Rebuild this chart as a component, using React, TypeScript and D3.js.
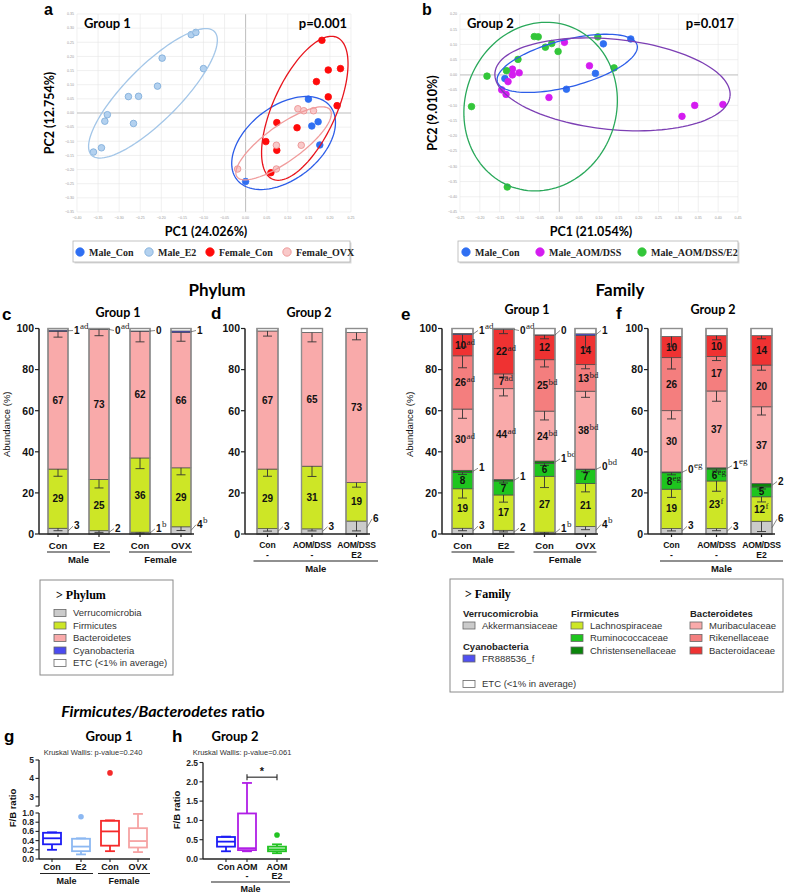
import React from 'react';
import * as d3 from 'd3';

const SANS = '"Liberation Sans", Arial, Helvetica, sans-serif';
const HEAD = 'Lato, "Open Sans", sans-serif';
const SERIF = '"Liberation Serif", "Times New Roman", serif';

// ---------- PCA (PC1, PC2) ----------
const aNames = ['Male_Con', 'Male_E2', 'Female_Con', 'Female_OVX'];
const aMaleCon = [[0.149, 0.049], [0.157, -0.046], [0.172, -0.031], [0.176, -0.113], [0.0, -0.242]];
const aMaleE2 = [[-0.361, -0.138], [-0.342, -0.123], [-0.334, -0.029], [-0.328, -0.006], [-0.278, 0.058], [-0.254, 0.059],
  [-0.266, -0.037], [-0.209, 0.095], [-0.198, 0.194], [-0.129, 0.277], [-0.118, 0.285], [-0.1, 0.157]];
const aFemaleCon = [[0.181, 0.257], [0.196, 0.152], [0.225, 0.157], [0.168, 0.111], [0.196, 0.057], [0.217, 0.026],
  [0.074, -0.034], [0.122, -0.052], [0.048, -0.101], [0.074, -0.132], [0.06, -0.211]];
const aFemaleOVX = [[-0.019, -0.198], [0.073, -0.114], [0.073, -0.198], [0.124, 0.015], [0.138, 0.008], [0.161, 0.008], [0.132, -0.114]];
// confidence ellipses: centre + two conjugate half axes (PC units)
const aEllMaleCon = { c: [0.0901, -0.1061], u: [0.1107, 0.1296], v: [-0.0538, 0.1013] };
const aEllMaleE2 = { c: [-0.2198, 0.0695], u: [0.1408, 0.2239], v: [0.0593, -0.0471] };
const aEllFemaleCon = { c: [0.1404, 0.0165], u: [0.0633, 0.2545], v: [0.0807, 0] };
const aEllFemaleOVX = { c: [0.0901, -0.1072], u: [0.1107, 0.1178], v: [-0.0237, 0.053] };

const bNames = ['Male_Con', 'Male_AOM/DSS', 'Male_AOM/DSS/E2'];
const bMaleCon = [[0.18, 0.118], [0.111, 0.102], [0.091, 0.005], [0.018, -0.047], [-0.137, -0.012]];
const bAomDss = [[0.013, 0.107], [0.076, 0.03], [-0.118, 0.019], [-0.101, 0.007], [-0.118, 0.0], [-0.129, -0.022],
  [-0.145, -0.049], [-0.134, -0.064], [-0.026, -0.074], [0.309, -0.136], [0.341, -0.1], [0.412, -0.097]];
const bAomDssE2 = [[-0.063, 0.126], [-0.053, 0.125], [-0.035, 0.091], [-0.019, 0.103], [-0.003, 0.077], [0.097, 0.125],
  [0.138, 0.023], [-0.104, 0.051], [-0.133, 0.014], [-0.182, -0.004], [-0.221, -0.104], [-0.131, -0.368]];
const bEllMaleCon = { c: [0.02, 0.038], u: [0.176, 0.06], v: [0.0149, -0.0744] };
const bEllAomDss = { c: [0.134, -0.031], u: [0.296, -0.0385], v: [-0.0113, -0.1476] };
const bEllAomDssE2 = { c: [-0.047, -0.104], u: [0.0714, 0.264], v: [0.1796, -0.0832] };

const pcaStyle = {
  Male_Con: { fill: '#2f6ff2', stroke: '#2f6ff2', line: '#2c5de8' },
  Male_E2: { fill: '#b3d1ef', stroke: '#7aa9d8', line: '#a3c6e8' },
  Female_Con: { fill: '#ff0a0a', stroke: '#ff0a0a', line: '#e8141c' },
  Female_OVX: { fill: '#f9c9c9', stroke: '#ea8c8c', line: '#f09c9c' },
  'Male_AOM/DSS': { fill: '#d41cf0', stroke: '#d41cf0', line: '#7c3fb4' },
  'Male_AOM/DSS/E2': { fill: '#33c63a', stroke: '#33c63a', line: '#29a85a' },
};

// ---------- Phylum stacked bars (%) ----------
const phylumTaxa = ['Verrucomicrobia', 'Firmicutes', 'Bacteroidetes', 'Cyanobacteria', 'ETC (<1% in average)'];
const phylumColors = ['#cbcbcb', '#cde626', '#f9aaaa', '#4b4bf0', '#ffffff'];
const phylumG1 = [[2.8, 28.8, 67.0, 0.6, 0.8], [1.6, 24.9, 73.0, 0.1, 0.4], [0.9, 36.1, 61.7, 0.1, 1.2], [3.5, 28.7, 65.8, 0.8, 1.2]];
const phylumG1Err = [[1.2, 3.5, 2.8, 0, 0], [0.8, 4.1, 3.0, 0, 0], [0.5, 5.2, 5.2, 0, 0], [1.8, 3.4, 4.2, 0, 0]];
const phylumG2 = [[2.6, 29.0, 67.2, 0, 1.2], [2.5, 30.5, 65.0, 0, 2.0], [6.3, 18.7, 73.0, 0, 2.0]];
const phylumG2Err = [[1.2, 3.5, 2.5, 0, 0], [1.0, 5.0, 4.5, 0, 0], [4.8, 2.2, 3.5, 0, 0]];

// ---------- Family stacked bars (%) ----------
const familyTaxa = ['Akkermansiaceae', 'Lachnospiraceae', 'Ruminococcaceae', 'Christensenellaceae', 'Muribaculaceae',
  'Rikenellaceae', 'Bacteroidaceae', 'FR888536_f', 'ETC (<1% in average)'];
const familyColors = ['#cbcbcb', '#cde626', '#1ec51e', '#0b850b', '#f9aaaa', '#f47e7e', '#ef3232', '#5050f0', '#ffffff'];
const familyG1 = [
  [2.8, 19.2, 8.0, 1.0, 29.8, 25.9, 10.3, 0.6, 2.4],
  [1.8, 17.2, 6.8, 0.7, 44.2, 7.2, 21.6, 0.1, 0.4],
  [0.9, 27.2, 6.3, 1.1, 24.3, 25.0, 12.0, 0.1, 3.1],
  [3.6, 20.9, 6.8, 0.3, 37.9, 12.9, 14.2, 0.8, 2.6],
];
const familyG1Err = [
  [1.2, 4.5, 1.0, 0, 4.5, 5.8, 6.0, 0, 0],
  [0.8, 3.5, 1.0, 0, 3.5, 1.5, 2.0, 0, 0],
  [0.5, 5.5, 1.0, 0, 4.3, 3.5, 1.8, 0, 0],
  [1.5, 4.0, 1.0, 0, 3.0, 2.0, 6.0, 0, 0],
];
const familyG2 = [
  [2.7, 19.1, 8.0, 0.4, 29.8, 25.8, 10.3, 0, 3.9],
  [2.6, 23.2, 5.8, 0.6, 37.4, 16.8, 10.1, 0, 3.5],
  [6.2, 11.9, 4.8, 1.6, 37.4, 20.3, 14.3, 0, 3.5],
];
const familyG2Err = [
  [1.2, 4.0, 1.0, 0, 4.0, 5.5, 5.0, 0, 0],
  [1.0, 5.0, 1.0, 0, 5.0, 2.0, 2.0, 0, 0],
  [5.0, 2.5, 1.0, 0, 4.0, 2.5, 1.5, 0, 0],
];
const familyLegendCols = [
  { phylum: 'Verrucomicrobia', items: [0] },
  { phylum: 'Cyanobacteria', items: [7] },
  { phylum: 'Firmicutes', items: [1, 2, 3] },
  { phylum: 'Bacteroidetes', items: [4, 5, 6] },
];

// significance letters
const phylumG1Out = [{ seg: 0, pos: 'bottom', sup: ['', '', 'b', 'b'] }, { seg: 3, pos: 'top', sup: ['ad', 'ad', '', ''] }];
const phylumG2Out = [{ seg: 0, pos: 'bottom', sup: ['', '', ''] }];
const familyG1Out = [
  { seg: 0, pos: 'bottom', sup: ['', '', 'b', 'b'] },
  { seg: 3, pos: 'side', sup: ['', '', 'bd', 'bd'] },
  { seg: 7, pos: 'top', sup: ['ad', 'ad', '', ''] },
];
const familyG2Out = [{ seg: 0, pos: 'bottom', sup: ['', '', ''] }, { seg: 3, pos: 'side', sup: ['eg', 'eg', ''] }];
const familyG1Sup = { 4: ['ad', 'ad', 'bd', 'bd'], 5: ['ad', 'ad', 'bd', 'bd'], 6: ['ad', 'ad', '', ''] };
const familyG2Sup = { 1: ['', 'f', 'f'], 2: ['eg', 'eg', ''] };

const g1Labels = [['Con'], ['E2'], ['Con'], ['OVX']];
const g1Groups = [{ name: 'Male', from: 0, to: 1 }, { name: 'Female', from: 2, to: 3 }];
const g2Labels = [['Con', '-'], ['AOM/DSS', '-'], ['AOM/DSS', 'E2']];
const g2Groups = [{ name: 'Male', from: 0, to: 2 }];

// ---------- F/B ratio box plots ----------
const fbG1 = { lo: [0.2, 0.1, 0.17, 0.15], q1: [0.32, 0.17, 0.29, 0.25], med: [0.45, 0.27, 0.6, 0.39], q3: [0.57, 0.44, 0.83, 0.67], hi: [0.58, 0.45, 0.84, 0.98], out: [[], [0.92], [4.3], []] };
const fbG2 = { lo: [0.2, 0.2, 0.15], q1: [0.32, 0.23, 0.2], med: [0.45, 0.28, 0.25], q3: [0.57, 1.18, 0.32], hi: [0.58, 1.97, 0.38], out: [[], [], [0.62]] };
const fbG2Labels = [['Con'], ['AOM', '-'], ['AOM', 'E2']];

function Pca({ names, points, ellipses, xDomain, yDomain, xRange, yRange, letter, letterX, group, pval, pc1, pc2, legendBox, legendPos }) {
  const x = d3.scaleLinear().domain(xDomain).range(xRange);
  const y = d3.scaleLinear().domain(yDomain).range(yRange);
  const xt = x.ticks(14), yt = y.ticks(14);
  const fmt = d3.format('.2f');
  const line = d3.line();
  const ell = e => line(d3.range(0, 361, 3).map(deg => {
    const t = (deg * Math.PI) / 180;
    return [x(e.c[0] + e.u[0] * Math.cos(t) + e.v[0] * Math.sin(t)), y(e.c[1] + e.u[1] * Math.cos(t) + e.v[1] * Math.sin(t))];
  }));
  const midX = (xRange[0] + xRange[1]) / 2, midY = (yRange[0] + yRange[1]) / 2;
  return (
    <g>
      {xt.map(t => (
        <line key={'x' + t} x1={x(t)} x2={x(t)} y1={yRange[0]} y2={yRange[1]} stroke={Math.abs(t) < 1e-9 ? '#bdbdbd' : '#e6e6e6'} strokeWidth={Math.abs(t) < 1e-9 ? 1 : 0.6} />
      ))}
      {yt.map(t => (
        <line key={'y' + t} x1={xRange[0]} x2={xRange[1]} y1={y(t)} y2={y(t)} stroke={Math.abs(t) < 1e-9 ? '#bdbdbd' : '#e6e6e6'} strokeWidth={Math.abs(t) < 1e-9 ? 1 : 0.6} />
      ))}
      {xt.map(t => (
        <text key={'xl' + t} x={x(t)} y={yRange[0] + 7} fontSize={3.6} fill="#999" textAnchor="middle" fontFamily={SANS}>{fmt(t)}</text>
      ))}
      {yt.map(t => (
        <text key={'yl' + t} x={xRange[0] - 3} y={y(t) + 1.3} fontSize={3.6} fill="#999" textAnchor="end" fontFamily={SANS}>{fmt(t)}</text>
      ))}
      {names.map((n, i) => (
        <g key={n}>
          {points[i].map((p, j) => (
            <circle key={j} cx={x(p[0])} cy={y(p[1])} r={3.3} fill={pcaStyle[n].fill} stroke={pcaStyle[n].stroke} strokeWidth={0.8} />
          ))}
        </g>
      ))}
      {names.map((n, i) => (
        <path key={'e' + n} d={ell(ellipses[i])} fill="none" stroke={pcaStyle[n].line} strokeWidth={1.3} />
      ))}
      <text x={letterX} y={15} fontSize={16} fontWeight="bold" fontFamily={SANS}>{letter}</text>
      <text x={xRange[0] + 7} y={28} fontSize={13} fontWeight="bold" fontFamily={HEAD}>{group}</text>
      <text x={xRange[1] - 4} y={28} fontSize={13} fontWeight="bold" fontFamily={HEAD} textAnchor="end">{pval}</text>
      <text x={midX - 8} y={236} fontSize={12.5} fontWeight="bold" fontFamily={HEAD} textAnchor="middle">{pc1}</text>
      <text transform={`translate(${xRange[0] - 23},${midY}) rotate(-90)`} fontSize={12.5} fontWeight="bold" fontFamily={HEAD} textAnchor="middle">{pc2}</text>
      <rect x={legendBox[0] + 1.5} y={242.5} width={legendBox[1] - legendBox[0]} height={21} fill="#d9d9d9" />
      <rect x={legendBox[0]} y={241} width={legendBox[1] - legendBox[0]} height={21} fill="#fff" stroke="#b5b5b5" strokeWidth={0.8} />
      {names.map((n, i) => (
        <g key={'lg' + n}>
          <circle cx={legendPos[i]} cy={252} r={4.2} fill={pcaStyle[n].fill} stroke={pcaStyle[n].stroke} strokeWidth={0.8} />
          <text x={legendPos[i] + 9} y={255.5} fontSize={10} fontWeight="bold" fontFamily={SERIF} fill="#222">{n}</text>
        </g>
      ))}
    </g>
  );
}

function StackPanel({ axisX, axisEnd, centers, barW, values, errors, colors, insideSup, outside, xLabels, groups, lineExt, yLabel, title, titleX, titleY, letter, letterX, letterY }) {
  const y = d3.scaleLinear().domain([0, 100]).range([534, 328.5]);
  const x = d3.scalePoint().domain(d3.range(values.length)).range(centers);
  const outSegs = new Set(outside.map(o => o.seg));
  const twoLine = xLabels[0].length > 1;
  const numW = s => String(s).length * 5.6;
  return (
    <g fontFamily={SANS}>
      {values.map((row, i) => {
        const cx = x(i);
        const left = cx - barW / 2, right = cx + barW / 2;
        const tops = Array.from(d3.cumsum(row));
        const total = tops[tops.length - 1];
        return (
          <g key={i}>
            {row.map((v, s) => {
              const b = s ? tops[s - 1] : 0;
              return v > 0 ? (
                <rect key={s} x={left} y={y(tops[s])} width={barW} height={y(b) - y(tops[s])} fill={colors[s]} stroke="#4a4a4a" strokeWidth={0.7} />
              ) : null;
            })}
            <rect x={left} y={y(total)} width={barW} height={y(0) - y(total)} fill="none" stroke="#8e8e8e" strokeWidth={1.4} />
            {row.map((v, s) => {
              const e = errors[i][s];
              if (!e) return null;
              const yt = y(tops[s]), yb = y(tops[s] - e);
              return (
                <g key={'e' + s} stroke="#333" strokeWidth={0.9}>
                  <line x1={cx} x2={cx} y1={yt} y2={yb} />
                  <line x1={cx - 4.5} x2={cx + 4.5} y1={yb} y2={yb} />
                </g>
              );
            })}
            {row.map((v, s) => {
              if (s === row.length - 1 || outSegs.has(s) || v < 4) return null;
              const b = s ? tops[s - 1] : 0;
              const label = Math.round(v);
              const sup = insideSup && insideSup[s] ? insideSup[s][i] : '';
              const tx = sup ? cx - 2 : cx;
              const ty = y((b + tops[s]) / 2) + 3.6;
              return (
                <g key={'l' + s}>
                  <text x={tx} y={ty} fontSize={10} fontWeight="bold" textAnchor="middle" fill="#111">{label}</text>
                  {sup && <text x={tx + numW(label) / 2 + 0.3} y={ty - 4} fontSize={9} fontFamily={SERIF} fill="#222">{sup}</text>}
                </g>
              );
            })}
            {outside.map(o => {
              const s = o.seg;
              const b = s ? tops[s - 1] : 0;
              const v = row[s];
              const label = Math.round(v);
              let cy;
              if (o.pos === 'bottom') cy = y(Math.max(tops[s] + 1.5, 3));
              else if (o.pos === 'top') cy = y(100) + 1;
              else cy = y(tops[s] + 1.5);
              const lx = right + 6;
              const sup = o.sup[i];
              return (
                <g key={'o' + s}>
                  <line x1={right} y1={y((b + tops[s]) / 2)} x2={lx - 1} y2={cy + 1} stroke="#555" strokeWidth={0.7} />
                  <text x={lx} y={cy + 4} fontSize={10} fontWeight="bold" fill="#111">{label}</text>
                  {sup && <text x={lx + numW(label) + 0.5} y={cy - 0.5} fontSize={9} fontFamily={SERIF} fill="#222">{sup}</text>}
                </g>
              );
            })}
          </g>
        );
      })}
      <line x1={axisX} x2={axisX} y1={y(0)} y2={y(100)} stroke="#222" strokeWidth={1.5} />
      <line x1={axisX} x2={axisEnd} y1={y(0)} y2={y(0)} stroke="#222" strokeWidth={1.5} />
      {y.ticks(5).map(t => (
        <g key={t}>
          <line x1={axisX - 4} x2={axisX} y1={y(t)} y2={y(t)} stroke="#222" strokeWidth={1.2} />
          <text x={axisX - 5} y={y(t) + 3.8} fontSize={10.5} fontWeight="bold" textAnchor="end" fill="#111">{t}</text>
        </g>
      ))}
      {values.map((r, i) => (
        <line key={'t' + i} x1={x(i)} x2={x(i)} y1={y(0)} y2={y(0) + 3} stroke="#222" strokeWidth={1.2} />
      ))}
      {xLabels.map((ls, i) => ls.map((l, k) => (
        <text key={i + '-' + k} x={x(i)} y={(twoLine ? 547.5 : 549) + k * 10} fontSize={twoLine ? 8.6 : 9.5} letterSpacing={l.length > 4 ? -0.25 : 0}
          fontWeight="bold" textAnchor="middle" fill="#111">{l}</text>
      )))}
      {groups.map(g => {
        const ly = twoLine ? 561 : 552;
        return (
          <g key={g.name}>
            <line x1={x(g.from) - lineExt[0]} x2={x(g.to) + lineExt[1]} y1={ly} y2={ly} stroke="#222" strokeWidth={1.1} />
            <text x={(x(g.from) - lineExt[0] + x(g.to) + lineExt[1]) / 2} y={ly + 11} fontSize={9.5} fontWeight="bold" textAnchor="middle" fill="#111">{g.name}</text>
          </g>
        );
      })}
      {yLabel && (
        <text transform={`translate(${axisX - 29},${y(50) - 7}) rotate(-90)`} fontSize={9.5} textAnchor="middle" fill="#111">{yLabel}</text>
      )}
      <text x={titleX} y={titleY} fontSize={12.5} fontWeight="bold" fontFamily={HEAD} textAnchor="middle">{title}</text>
      <text x={letterX} y={letterY} fontSize={17} fontWeight="bold">{letter}</text>
    </g>
  );
}

function Swatch({ x, y, color }) {
  return <rect x={x} y={y - 3.5} width={12} height={7} fill={color} stroke="#666" strokeWidth={0.8} />;
}

function PhylumLegend() {
  const rowY = d3.scalePoint().domain(d3.range(phylumTaxa.length)).range([613, 663]);
  return (
    <g fontFamily={SANS}>
      <rect x={40} y={580} width={133} height={95} fill="#fff" stroke="#8a8a8a" strokeWidth={1} />
      <text x={56} y={599} fontSize={12} fontWeight="bold" fontFamily={SERIF}>&gt; Phylum</text>
      {phylumTaxa.map((t, i) => (
        <g key={t}>
          <Swatch x={54} y={rowY(i)} color={phylumColors[i]} />
          <text x={73} y={rowY(i) + 3.4} fontSize={9.5} fill="#333">{t}</text>
        </g>
      ))}
    </g>
  );
}

function FamilyLegend() {
  const colX = [463, 463, 571, 690];
  const colY = [613, 646, 613, 613];
  return (
    <g fontFamily={SANS}>
      <rect x={450} y={579} width={333} height={113} fill="#fff" stroke="#8a8a8a" strokeWidth={1} />
      <text x={465} y={598} fontSize={12} fontWeight="bold" fontFamily={SERIF}>&gt; Family</text>
      {familyLegendCols.map((c, ci) => (
        <g key={c.phylum}>
          <text x={colX[ci]} y={colY[ci] + 3.5} fontSize={9.5} fontWeight="bold" fill="#222">{c.phylum}</text>
          {c.items.map((it, k) => {
            const ry = colY[ci] + 12.5 * (k + 1);
            return (
              <g key={it}>
                <Swatch x={colX[ci]} y={ry} color={familyColors[it]} />
                <text x={colX[ci] + 19} y={ry + 3.4} fontSize={9.5} fill="#333">{familyTaxa[it]}</text>
              </g>
            );
          })}
        </g>
      ))}
      <Swatch x={463} y={684} color={familyColors[8]} />
      <text x={482} y={687.4} fontSize={9.5} fill="#333">{familyTaxa[8]}</text>
    </g>
  );
}

function BoxPanel({ data, colors, pos, boxW, axisX, axisEnd, broken, xLabels, groups, lineExt, letter, letterX, title, titleX, kw, kwX, sig }) {
  const low = broken ? d3.scaleLinear().domain([0, 1]).range([859, 813]) : d3.scaleLinear().domain([0, 2.5]).range([859, 762.5]);
  const up = d3.scaleLinear().domain([2.5, 5]).range([806, 760]);
  const Y = v => (broken && v > 1.5 ? up(v) : low(v));
  const X = d3.scaleOrdinal().domain(d3.range(pos.length)).range(pos);
  const f1 = d3.format('.1f');
  const twoLine = xLabels.some(l => l.length > 1);
  return (
    <g fontFamily={SANS}>
      <text x={letterX} y={742} fontSize={17} fontWeight="bold">{letter}</text>
      <text x={titleX} y={741} fontSize={13} fontWeight="bold" fontFamily={HEAD} textAnchor="middle">{title}</text>
      <text x={kwX} y={755} fontSize={7.5} textAnchor="middle" fill="#333">{kw}</text>
      {data.lo.map((_, i) => {
        const cx = X(i);
        const c = colors[i];
        const hw = boxW / 2;
        return (
          <g key={i} stroke={c} strokeWidth={1.8} fill="none">
            <line x1={cx} x2={cx} y1={Y(data.lo[i])} y2={Y(data.q1[i])} />
            <line x1={cx} x2={cx} y1={Y(data.q3[i])} y2={Y(data.hi[i])} />
            <line x1={cx - hw * 0.55} x2={cx + hw * 0.55} y1={Y(data.lo[i])} y2={Y(data.lo[i])} />
            <line x1={cx - hw * 0.55} x2={cx + hw * 0.55} y1={Y(data.hi[i])} y2={Y(data.hi[i])} />
            <rect x={cx - hw} y={Y(data.q3[i])} width={boxW} height={Y(data.q1[i]) - Y(data.q3[i])} />
            <line x1={cx - hw} x2={cx + hw} y1={Y(data.med[i])} y2={Y(data.med[i])} />
            {data.out[i].map((o, k) => (
              <circle key={k} cx={cx} cy={Y(o)} r={2.8} fill={c} stroke="none" />
            ))}
          </g>
        );
      })}
      <line x1={axisX} x2={axisX} y1={low(0)} y2={low.range()[1]} stroke="#222" strokeWidth={1.3} />
      {low.ticks(5).map(t => (
        <g key={'l' + t}>
          <line x1={axisX - 3.5} x2={axisX} y1={low(t)} y2={low(t)} stroke="#222" strokeWidth={1.1} />
          <text x={axisX - 5} y={low(t) + 3} fontSize={8.5} fontWeight="bold" textAnchor="end" fill="#222">{f1(t)}</text>
        </g>
      ))}
      {broken && (
        <g>
          <line x1={axisX} x2={axisX} y1={up(2.5)} y2={up(5)} stroke="#222" strokeWidth={1.3} />
          <line x1={axisX - 3.5} x2={axisX} y1={up(2.5)} y2={up(2.5)} stroke="#222" strokeWidth={1.1} />
          {up.ticks(3).map(t => (
            <g key={'u' + t}>
              <line x1={axisX - 3.5} x2={axisX} y1={up(t)} y2={up(t)} stroke="#222" strokeWidth={1.1} />
              <text x={axisX - 5} y={up(t) + 3} fontSize={8.5} fontWeight="bold" textAnchor="end" fill="#222">{t}</text>
            </g>
          ))}
        </g>
      )}
      <text transform={`translate(${axisX - 23},${broken ? 808 : 810}) rotate(-90)`} fontSize={9.5} fontWeight="bold" textAnchor="middle" fill="#111">F/B ratio</text>
      <line x1={axisX} x2={axisEnd} y1={low(0)} y2={low(0)} stroke="#222" strokeWidth={1.3} />
      {pos.map((p, i) => (
        <line key={'t' + i} x1={X(i)} x2={X(i)} y1={low(0)} y2={low(0) + 3} stroke="#222" strokeWidth={1.1} />
      ))}
      {xLabels.map((ls, i) => ls.map((l, k) => (
        <text key={i + '-' + k} x={X(i)} y={870 + k * 9} fontSize={9} fontWeight="bold" textAnchor="middle" fill="#111">{l}</text>
      )))}
      {groups.map(g => {
        const ly = twoLine ? 882 : 873.5;
        return (
          <g key={g.name}>
            <line x1={X(g.from) - lineExt[0]} x2={X(g.to) + lineExt[1]} y1={ly} y2={ly} stroke="#222" strokeWidth={1.1} />
            <text x={(X(g.from) - lineExt[0] + X(g.to) + lineExt[1]) / 2} y={ly + 10} fontSize={9} fontWeight="bold" textAnchor="middle" fill="#111">{g.name}</text>
          </g>
        );
      })}
      {sig && (
        <g stroke="#222" strokeWidth={1.1}>
          <line x1={X(sig.from)} x2={X(sig.to)} y1={Y(sig.at)} y2={Y(sig.at)} />
          <line x1={X(sig.from)} x2={X(sig.from)} y1={Y(sig.at) - 3} y2={Y(sig.at) + 3} />
          <line x1={X(sig.to)} x2={X(sig.to)} y1={Y(sig.at) - 3} y2={Y(sig.at) + 3} />
          <text x={(X(sig.from) + X(sig.to)) / 2} y={Y(sig.at) - 2} fontSize={11} fontWeight="bold" textAnchor="middle" stroke="none" fill="#111">*</text>
        </g>
      )}
    </g>
  );
}

export default function App() {
  return (
    <svg width={786} height={893} style={{ position: 'absolute', left: 0, top: 0, background: '#fff' }}>
      <rect width={786} height={893} fill="#fff" />
      <Pca
        names={aNames}
        points={[aMaleCon, aMaleE2, aFemaleCon, aFemaleOVX]}
        ellipses={[aEllMaleCon, aEllMaleE2, aEllFemaleCon, aEllFemaleOVX]}
        xDomain={[-0.4, 0.25]} yDomain={[-0.35, 0.35]} xRange={[77, 351]} yRange={[212, 14]}
        letter="a" letterX={44} group="Group 1" pval="p=0.001" pc1="PC1 (24.026%)" pc2="PC2 (12.754%)"
        legendBox={[73, 350]} legendPos={[80, 149, 210, 287]}
      />
      <Pca
        names={bNames}
        points={[bMaleCon, bAomDss, bAomDssE2]}
        ellipses={[bEllMaleCon, bEllAomDss, bEllAomDssE2]}
        xDomain={[-0.25, 0.45]} yDomain={[-0.45, 0.2]} xRange={[460, 738]} yRange={[212, 14]}
        letter="b" letterX={422} group="Group 2" pval="p=0.017" pc1="PC1 (21.054%)" pc2="PC2 (9.010%)"
        legendBox={[458, 738]} legendPos={[466, 540, 642]}
      />
      <text x={217} y={296} fontSize={17} fontWeight="bold" fontFamily={HEAD} textAnchor="middle">Phylum</text>
      <text x={620} y={296} fontSize={17} fontWeight="bold" fontFamily={HEAD} textAnchor="middle">Family</text>
      <StackPanel axisX={39} axisEnd={194} centers={[58, 181]} barW={20} values={phylumG1} errors={phylumG1Err}
        colors={phylumColors} insideSup={null} outside={phylumG1Out} xLabels={g1Labels} groups={g1Groups} lineExt={[11, 11]}
        yLabel="Abundance (%)" title="Group 1" titleX={118} titleY={317} letter="c" letterX={2} letterY={320} />
      <StackPanel axisX={245} axisEnd={370} centers={[267.5, 356.5]} barW={21} values={phylumG2} errors={phylumG2Err}
        colors={phylumColors} insideSup={null} outside={phylumG2Out} xLabels={g2Labels} groups={g2Groups} lineExt={[14, 21.5]}
        yLabel={null} title="Group 2" titleX={309} titleY={317} letter="d" letterX={211} letterY={319} />
      <StackPanel axisX={442} axisEnd={598} centers={[462.5, 585.5]} barW={21} values={familyG1} errors={familyG1Err}
        colors={familyColors} insideSup={familyG1Sup} outside={familyG1Out} xLabels={g1Labels} groups={g1Groups} lineExt={[11, 11]}
        yLabel="Abundance (%)" title="Group 1" titleX={527} titleY={314} letter="e" letterX={401} letterY={320} />
      <StackPanel axisX={648} axisEnd={775} centers={[671.5, 761.5]} barW={21} values={familyG2} errors={familyG2Err}
        colors={familyColors} insideSup={familyG2Sup} outside={familyG2Out} xLabels={g2Labels} groups={g2Groups} lineExt={[11.5, 21.5]}
        yLabel={null} title="Group 2" titleX={713} titleY={314} letter="f" letterX={616} letterY={319} />
      <PhylumLegend />
      <FamilyLegend />
      <text x={163} y={717} fontSize={16} fontFamily={HEAD} textAnchor="middle">
        <tspan fontStyle="italic" fontWeight="bold">Firmicutes/Bacterodetes</tspan>
        <tspan fontWeight="bold"> ratio</tspan>
      </text>
      <BoxPanel data={fbG1} colors={['#1c1cf5', '#8cb8f2', '#f52a2a', '#f6a3a3']} pos={[52, 81, 110, 138]} boxW={18}
        axisX={39} axisEnd={150} broken xLabels={g1Labels} groups={g1Groups} lineExt={[12, 12]}
        letter="g" letterX={4} title="Group 1" titleX={109} kw="Kruskal Wallis: p-value=0.240" kwX={93} sig={null} />
      <BoxPanel data={fbG2} colors={['#1c1cf5', '#b01ee6', '#22c322']} pos={[226, 247, 277]} boxW={18}
        axisX={203} axisEnd={290} broken={false} xLabels={fbG2Labels} groups={[{ name: 'Male', from: 0, to: 2 }]} lineExt={[15, 13]}
        letter="h" letterX={172} title="Group 2" titleX={235} kw="Kruskal Wallis: p-value=0.061" kwX={242}
        sig={{ from: 1, to: 2, at: 2.12 }} />
    </svg>
  );
}
